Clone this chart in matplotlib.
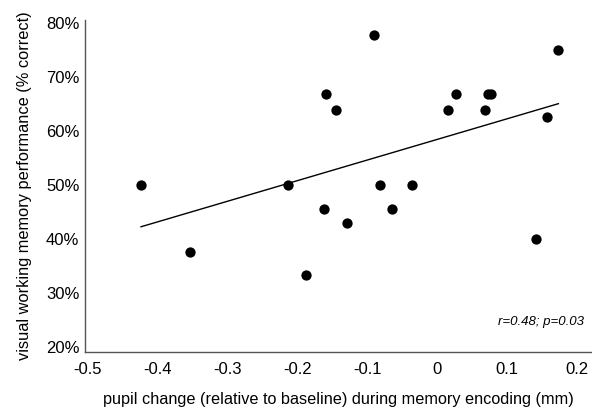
import matplotlib
matplotlib.use("Agg")
import matplotlib.pyplot as plt
from matplotlib.ticker import FuncFormatter

plt.rcParams['font.family'] = ['Liberation Sans', 'DejaVu Sans']

pupil_change = [-0.423, -0.353, -0.213, -0.187, -0.162, -0.159, -0.145, -0.129,
                -0.090, -0.082, -0.064, -0.036, 0.015, 0.027, 0.068, 0.072,
                0.077, 0.141, 0.157, 0.173]
performance = [50.0, 37.5, 50.0, 33.3, 45.4, 66.7, 63.9, 42.9,
               77.8, 50.0, 45.4, 50.0, 63.9, 66.7, 63.9, 66.7,
               66.7, 40.0, 62.5, 75.0]
fit_x = [-0.423, 0.173]
fit_y = [42.2, 65.0]
x_ticks = [-0.5, -0.4, -0.3, -0.2, -0.1, 0, 0.1, 0.2]
y_ticks = [20, 30, 40, 50, 60, 70, 80]
stat_text = "r=0.48; p=0.03"

W, H = 592, 408
fig = plt.figure(figsize=(W / 100, H / 100), dpi=100)
left, right, top, bottom = 85, 592, 20, 352
ax = fig.add_axes([left / W, 1 - bottom / H, (right - left) / W, (bottom - top) / H])

ax.plot(fit_x, fit_y, color='black', linewidth=1.0, zorder=2)
ax.scatter(pupil_change, performance, s=55, color='black', zorder=3, linewidths=0)

ax.set_xlim(-0.503, 0.221)
ax.set_ylim(19.0, 80.5)
ax.set_xticks(x_ticks)
ax.set_yticks(y_ticks)
ax.xaxis.set_major_formatter(FuncFormatter(lambda v, p: "0" if abs(v) < 1e-9 else f"{v:g}"))
ax.yaxis.set_major_formatter(FuncFormatter(lambda v, p: f"{v:.0f}%"))
ax.tick_params(axis='both', length=0, labelsize=12, colors='black')
ax.tick_params(axis='x', pad=7)
ax.tick_params(axis='y', pad=4)

for s in ['top', 'right']:
    ax.spines[s].set_visible(False)
for s in ['left', 'bottom']:
    ax.spines[s].set_color('#555555')
    ax.spines[s].set_linewidth(1.0)

ax.set_xlabel("pupil change (relative to baseline) during memory encoding (mm)", fontsize=11.7, labelpad=11)
ax.set_ylabel("visual working memory performance (% correct)", fontsize=11.8, labelpad=10)

ax.text(0.984, 0.09, stat_text, transform=ax.transAxes, ha='right', va='center',
        fontsize=9.5, style='italic')

fig.savefig("out.png", dpi=100)
